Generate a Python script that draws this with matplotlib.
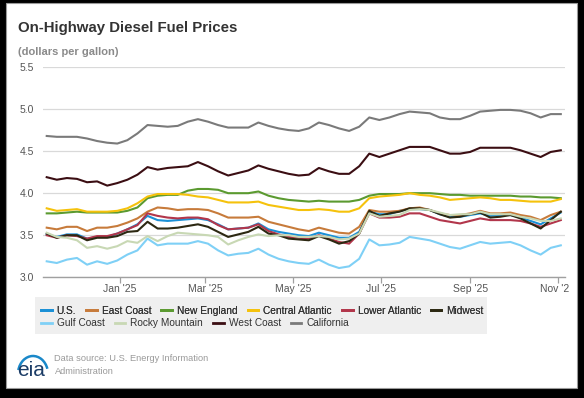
import matplotlib
matplotlib.use('Agg')
import matplotlib.pyplot as plt
import matplotlib.dates as mdates
import numpy as np
import pandas as pd
from matplotlib.patches import Rectangle, Arc
from matplotlib.lines import Line2D
from matplotlib.transforms import Bbox, TransformedBbox

plt.rcParams['font.family'] = ['Liberation Sans', 'DejaVu Sans']

# ---------------- data ----------------
dates = pd.date_range('2024-11-11', '2025-11-03', freq='7D')

us = [3.51, 3.48, 3.51, 3.51, 3.46, 3.48, 3.48, 3.52, 3.57, 3.63, 3.73, 3.68, 3.67,
      3.68, 3.69, 3.70, 3.68, 3.63, 3.57, 3.58, 3.59, 3.64, 3.57, 3.54, 3.52, 3.50,
      3.49, 3.53, 3.50, 3.47, 3.47, 3.54, 3.78, 3.75, 3.75, 3.79, 3.81, 3.81, 3.80,
      3.75, 3.72, 3.72, 3.74, 3.76, 3.73, 3.74, 3.74, 3.71, 3.67, 3.63, 3.70, 3.77]
east_coast = [3.59, 3.57, 3.60, 3.60, 3.55, 3.59, 3.59, 3.61, 3.65, 3.70, 3.78, 3.83, 3.82,
              3.80, 3.81, 3.81, 3.80, 3.76, 3.71, 3.71, 3.71, 3.72, 3.66, 3.63, 3.60, 3.57,
              3.55, 3.59, 3.56, 3.53, 3.52, 3.60, 3.80, 3.78, 3.78, 3.79, 3.82, 3.83, 3.80,
              3.76, 3.74, 3.74, 3.76, 3.79, 3.76, 3.76, 3.77, 3.74, 3.72, 3.68, 3.74, 3.78]
new_england = [3.76, 3.76, 3.77, 3.78, 3.77, 3.77, 3.77, 3.77, 3.79, 3.83, 3.94, 3.97, 3.98,
               3.98, 4.03, 4.05, 4.05, 4.04, 4.00, 4.00, 4.00, 4.02, 3.97, 3.94, 3.92, 3.91,
               3.90, 3.91, 3.90, 3.90, 3.90, 3.92, 3.97, 3.99, 3.99, 3.99, 4.00, 4.00, 4.00,
               3.99, 3.98, 3.98, 3.97, 3.97, 3.97, 3.97, 3.97, 3.96, 3.96, 3.95, 3.95, 3.94]
central_atlantic = [3.82, 3.79, 3.80, 3.81, 3.78, 3.78, 3.78, 3.79, 3.82, 3.88, 3.96, 3.99, 3.99,
                    3.99, 3.98, 3.96, 3.95, 3.92, 3.89, 3.89, 3.89, 3.90, 3.86, 3.84, 3.82, 3.80,
                    3.80, 3.81, 3.80, 3.78, 3.78, 3.82, 3.94, 3.96, 3.97, 3.98, 4.00, 3.98, 3.97,
                    3.95, 3.92, 3.93, 3.94, 3.95, 3.94, 3.92, 3.92, 3.91, 3.90, 3.90, 3.90, 3.93]
lower_atlantic = [3.50, 3.47, 3.50, 3.49, 3.46, 3.49, 3.49, 3.52, 3.57, 3.62, 3.76, 3.73, 3.71,
                  3.70, 3.71, 3.71, 3.69, 3.62, 3.57, 3.58, 3.59, 3.63, 3.55, 3.51, 3.48, 3.47,
                  3.46, 3.50, 3.46, 3.42, 3.40, 3.52, 3.76, 3.71, 3.71, 3.72, 3.76, 3.76, 3.72,
                  3.68, 3.66, 3.64, 3.67, 3.70, 3.68, 3.68, 3.68, 3.67, 3.64, 3.60, 3.64, 3.68]
midwest = [3.52, 3.47, 3.50, 3.50, 3.44, 3.47, 3.47, 3.49, 3.54, 3.55, 3.66, 3.58, 3.58,
           3.59, 3.61, 3.63, 3.60, 3.54, 3.48, 3.51, 3.54, 3.60, 3.52, 3.50, 3.46, 3.45,
           3.44, 3.49, 3.45, 3.40, 3.43, 3.52, 3.79, 3.73, 3.76, 3.78, 3.82, 3.82, 3.80,
           3.75, 3.71, 3.72, 3.75, 3.77, 3.71, 3.72, 3.74, 3.70, 3.64, 3.58, 3.68, 3.78]
gulf_coast = [3.19, 3.17, 3.21, 3.23, 3.15, 3.19, 3.16, 3.20, 3.27, 3.32, 3.46, 3.38, 3.40,
              3.40, 3.40, 3.43, 3.40, 3.32, 3.26, 3.28, 3.29, 3.34, 3.27, 3.22, 3.19, 3.17,
              3.16, 3.21, 3.15, 3.11, 3.13, 3.22, 3.45, 3.38, 3.39, 3.41, 3.48, 3.46, 3.44,
              3.40, 3.36, 3.34, 3.38, 3.42, 3.40, 3.41, 3.42, 3.38, 3.32, 3.27, 3.35, 3.38]
rocky_mountain = [3.53, 3.48, 3.47, 3.44, 3.35, 3.37, 3.34, 3.37, 3.43, 3.41, 3.49, 3.43, 3.49,
                  3.53, 3.52, 3.51, 3.50, 3.48, 3.39, 3.44, 3.48, 3.51, 3.49, 3.50, 3.50, 3.48,
                  3.48, 3.49, 3.48, 3.45, 3.46, 3.52, 3.76, 3.72, 3.73, 3.74, 3.80, 3.81, 3.80,
                  3.77, 3.74, 3.75, 3.75, 3.78, 3.75, 3.75, 3.75, 3.72, 3.70, 3.67, 3.67, 3.70]
west_coast = [4.19, 4.16, 4.18, 4.17, 4.13, 4.14, 4.09, 4.12, 4.16, 4.22, 4.31, 4.28, 4.30,
              4.31, 4.32, 4.37, 4.32, 4.26, 4.21, 4.24, 4.27, 4.33, 4.29, 4.26, 4.23, 4.21,
              4.22, 4.30, 4.26, 4.23, 4.23, 4.32, 4.47, 4.43, 4.47, 4.51, 4.55, 4.55, 4.55,
              4.51, 4.47, 4.47, 4.49, 4.54, 4.54, 4.54, 4.54, 4.51, 4.47, 4.43, 4.49, 4.51]
california = [4.68, 4.67, 4.67, 4.67, 4.65, 4.62, 4.60, 4.59, 4.63, 4.71, 4.81, 4.80, 4.79,
              4.80, 4.85, 4.88, 4.85, 4.81, 4.78, 4.78, 4.78, 4.84, 4.80, 4.77, 4.75, 4.74,
              4.77, 4.84, 4.81, 4.77, 4.74, 4.79, 4.90, 4.87, 4.90, 4.94, 4.97, 4.96, 4.95,
              4.90, 4.88, 4.88, 4.92, 4.97, 4.98, 4.99, 4.99, 4.98, 4.95, 4.90, 4.94, 4.94]

series_names = ['U.S.', 'East Coast', 'New England', 'Central Atlantic', 'Lower Atlantic',
                'Midwest', 'Gulf Coast', 'Rocky Mountain', 'West Coast', 'California']
series_values = [us, east_coast, new_england, central_atlantic, lower_atlantic,
                 midwest, gulf_coast, rocky_mountain, west_coast, california]
series_colors = ['#1a90d6', '#c77b3b', '#5b9a30', '#f5c20c', '#b2364b',
                 '#2c2812', '#7fd0f6', '#c8d8b4', '#3b0e13', '#7a7a7a']

y_ticks = [3.0, 3.5, 4.0, 4.5, 5.0, 5.5]

# ---------------- figure ----------------
W, H = 584, 398
fig = plt.figure(figsize=(W / 100, H / 100), dpi=100, facecolor='black')

def fx(px):
    return px / W

def fy(py):
    return 1 - py / H

card = Rectangle((fx(6), fy(388)), fx(577) - fx(6), fy(3) - fy(388),
                 transform=fig.transFigure, facecolor='white', edgecolor='#9a9a9a',
                 linewidth=0.8, zorder=-2)
fig.patches.append(card)

ax = fig.add_axes([fx(43), fy(277.3), fx(565) - fx(43), fy(67) - fy(277.3)])
ax.set_zorder(2)
ax.set_facecolor('white')

for name, vals, col in zip(series_names, series_values, series_colors):
    ax.plot(dates, vals, color=col, lw=1.5, solid_joinstyle='round', label=name, zorder=3)

ax.set_ylim(3.0, 5.5)
ax.set_xlim(pd.Timestamp('2024-11-08 10:00'), pd.Timestamp('2025-11-05 22:00'))
ax.set_yticks(y_ticks)
ax.set_yticklabels([f'{v:.1f}' for v in y_ticks])
ax.grid(axis='y', color='#d9d9d9', lw=0.9, zorder=0)
ax.grid(axis='x', visible=False)
for s in ['top', 'right', 'left']:
    ax.spines[s].set_visible(False)
ax.spines['bottom'].set_color('#a0a0a0')
ax.spines['bottom'].set_linewidth(1.0)
ax.spines['bottom'].set_zorder(4)

ax.xaxis.set_major_locator(mdates.MonthLocator(bymonth=[1, 3, 5, 7, 9, 11]))
ax.xaxis.set_major_formatter(mdates.DateFormatter("%b '%y"))
ax.tick_params(axis='x', length=4, width=0.9, color='#a0a0a0', labelsize=7.5,
               labelcolor='#555555', pad=1)
ax.tick_params(axis='y', length=0, labelsize=7.5, labelcolor='#555555', pad=6.5)

clip = TransformedBbox(Bbox([[0, 0], [fx(569), 1]]), fig.transFigure)
for lab in ax.get_xticklabels():
    lab.set_clip_on(True)
    lab.set_clip_box(clip)

# ---------------- titles ----------------
fig.text(fx(18), fy(32.3), 'On-Highway Diesel Fuel Prices', fontsize=10.8,
         fontweight='bold', color='#333333', va='baseline', ha='left')
fig.text(fx(18), fy(55), '(dollars per gallon)', fontsize=8.0,
         fontweight='bold', color='#8a8a8a', va='baseline', ha='left')

# ---------------- legend ----------------
leg_bg = Rectangle((fx(35), fy(334)), fx(487) - fx(35), fy(297) - fy(334),
                   transform=fig.transFigure, facecolor='#efefef', edgecolor='none', zorder=-1)
fig.patches.append(leg_bg)

handles = [Line2D([0], [0], color=c, lw=2.0) for c in series_colors]
row1 = fig.legend(handles[:6], series_names[:6], loc='center left',
                  bbox_to_anchor=(fx(41), fy(310.7)), ncol=6, frameon=False,
                  fontsize=7.25, handlelength=1.05, handletextpad=0.5,
                  columnspacing=1.0, borderpad=0, borderaxespad=0,
                  labelcolor='#333333')
fig.add_artist(row1)
row2 = fig.legend(handles[6:], series_names[6:], loc='center left',
                  bbox_to_anchor=(fx(41), fy(323.3)), ncol=4, frameon=False,
                  fontsize=7.25, handlelength=1.05, handletextpad=0.5,
                  columnspacing=1.0, borderpad=0, borderaxespad=0,
                  labelcolor='#333333')
for lg in (row1, row2):
    lg.set_zorder(5)

# ---------------- source / logo ----------------
fig.text(fx(54.5), fy(358.3), 'Data source: U.S. Energy Information', fontsize=6.7,
         color='#9a9a9a', va='center', ha='left')
fig.text(fx(54.5), fy(371.7), 'Administration', fontsize=6.7,
         color='#9a9a9a', va='center', ha='left')

lax = fig.add_axes([fx(14), fy(386), fx(50) - fx(14), fy(350) - fy(386)])
lax.set_zorder(2)
lax.set_xlim(0, 36)
lax.set_ylim(0, 36)
lax.axis('off')
lax.text(17, 10, 'eia', fontsize=15, color='#1b3c66', ha='center', va='baseline',
         fontweight='normal')
lax.add_patch(Arc((19, 12), 30, 36, theta1=20, theta2=165, color='#1a88c9', lw=1.8))

plt.savefig('out.png', dpi=100, facecolor=fig.get_facecolor())
